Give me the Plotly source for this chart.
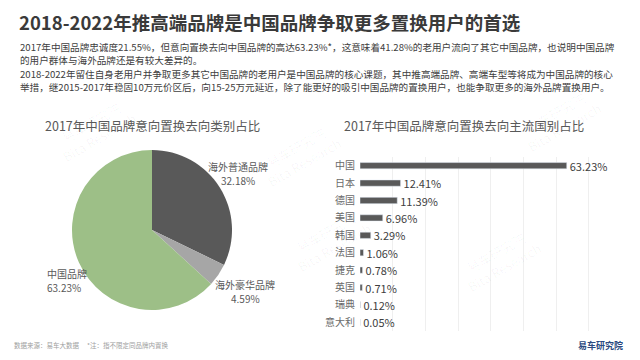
import plotly.graph_objects as go

# ---------- data ----------
pie_labels = ["海外普通品牌", "海外豪华品牌", "中国品牌"]
pie_values = [32.18, 4.59, 63.23]
pie_colors = ["#595959", "#a6a6a6", "#9dbf87"]

bar_countries = ["中国", "日本", "德国", "美国", "韩国", "法国", "捷克", "英国", "瑞典", "意大利"]
bar_values = [63.23, 12.41, 11.39, 6.96, 3.29, 1.06, 0.78, 0.71, 0.12, 0.05]
bar_ticks = [0, 10, 20, 30, 40, 50, 60, 70, 80]

title = "2018-2022年推高端品牌是中国品牌争取更多置换用户的首选"
para = [
    "2017年中国品牌忠诚度21.55%，但意向置换去向中国品牌的高达63.23%*，这意味着41.28%的老用户流向了其它中国品牌，也说明中国品牌",
    "的用户群体与海外品牌还是有较大差异的。",
    "2018-2022年留住自身老用户并争取更多其它中国品牌的老用户是中国品牌的核心课题，其中推高端品牌、高端车型等将成为中国品牌的核心",
    "举措，继2015-2017年稳固10万元价区后，向15-25万元延近，除了能更好的吸引中国品牌的置换用户，也能争取更多的海外品牌置换用户。",
]
pie_title = "2017年中国品牌意向置换去向类别占比"
bar_title = "2017年中国品牌意向置换去向主流国别占比"
footer = "数据来源：易车大数据　 *注：指不限定同品牌内置换"
logo = "易车研究院"

FONT = "Noto Sans CJK SC"
W, H = 640, 360

def px(x):
    return x / W

def py(y):
    return 1 - y / H

fig = go.Figure()

# pie
fig.add_trace(go.Pie(
    labels=pie_labels, values=pie_values,
    marker=dict(colors=pie_colors, line=dict(color="white", width=0)),
    sort=False, direction="clockwise", rotation=0,
    textinfo="none", hoverinfo="label+percent", showlegend=False,
    domain=dict(x=[px(72), px(232)], y=[py(310), py(150)]),
))

# bars
fig.add_trace(go.Bar(
    x=bar_values, y=bar_countries, orientation="h",
    marker=dict(color="#595959"), width=0.36,
    text=[f"{v:.2f}%" for v in bar_values], textposition="outside",
    constraintext="none",
    textfont=dict(family=FONT, size=11, color="#404040"),
    cliponaxis=False, showlegend=False,
))

fig.update_layout(
    width=W, height=H, margin=dict(l=0, r=0, t=0, b=0),
    paper_bgcolor="white", plot_bgcolor="white",
    font=dict(family=FONT),
    xaxis=dict(domain=[px(360), px(621.6)], range=[0, 80], tickvals=bar_ticks,
               showticklabels=False, showgrid=True, gridcolor="#efefef", gridwidth=1,
               zeroline=False, showline=False),
    yaxis=dict(domain=[py(331), py(157)], autorange="reversed",
               tickfont=dict(family=FONT, size=10, color="#6a6a6a"),
               showgrid=False, zeroline=False, showline=False, ticks="",
               ticklabelstandoff=4),
    bargap=0.6,
)

ann = []
ann.append(dict(x=px(17), y=py(22), text=f"<b>{title}</b>", xanchor="left", yanchor="middle",
                font=dict(family=FONT, size=18.5, color="#3a3a3a")))
for i, line in enumerate(para):
    ann.append(dict(x=px(18), y=py(47 + i * 13.4), text=line, xanchor="left", yanchor="middle",
                    font=dict(family=FONT, size=9.6, color="#404040")))
ann.append(dict(x=px(152), y=py(125), text=pie_title, xanchor="center", yanchor="middle",
                font=dict(family=FONT, size=12.5, color="#595959")))
ann.append(dict(x=px(342), y=py(125), text=bar_title, xanchor="left", yanchor="middle",
                font=dict(family=FONT, size=12.5, color="#595959")))
# pie labels
pie_lbl_pos = [(238, 166, "center"), (245, 284, "center"), (45, 273, "left")]
for (x, y, anc), lab, v in zip(pie_lbl_pos, pie_labels, pie_values):
    ann.append(dict(x=px(x), y=py(y), text=lab, xanchor=anc, yanchor="middle",
                    font=dict(family=FONT, size=10, color="#595959")))
    ann.append(dict(x=px(x), y=py(y + 14.5), text=f"{v:.2f}%", xanchor=anc, yanchor="middle",
                    font=dict(family=FONT, size=10, color="#595959")))
# footer
ann.append(dict(x=px(12), y=py(345), text=footer, xanchor="left", yanchor="middle",
                font=dict(family=FONT, size=6.5, color="#a0a0a0")))
ann.append(dict(x=px(625), y=py(345), text=f"<b>{logo}</b>", xanchor="right", yanchor="middle",
                font=dict(family=FONT, size=9, color="#2b4a80")))
# faint watermarks
for (x, y) in [(95, 130), (300, 155), (500, 260), (560, 120), (330, 240)]:
    ann.append(dict(x=px(x), y=py(y), text="易车研究院<br>Bita Research", textangle=-30,
                    showarrow=False, xanchor="center", yanchor="middle",
                    font=dict(family=FONT, size=13, color="rgba(0,0,0,0.035)")))
for a in ann:
    a.setdefault("showarrow", False)
    a["xref"] = "paper"
    a["yref"] = "paper"
fig.update_layout(annotations=ann)

fig.write_html("out.html")
